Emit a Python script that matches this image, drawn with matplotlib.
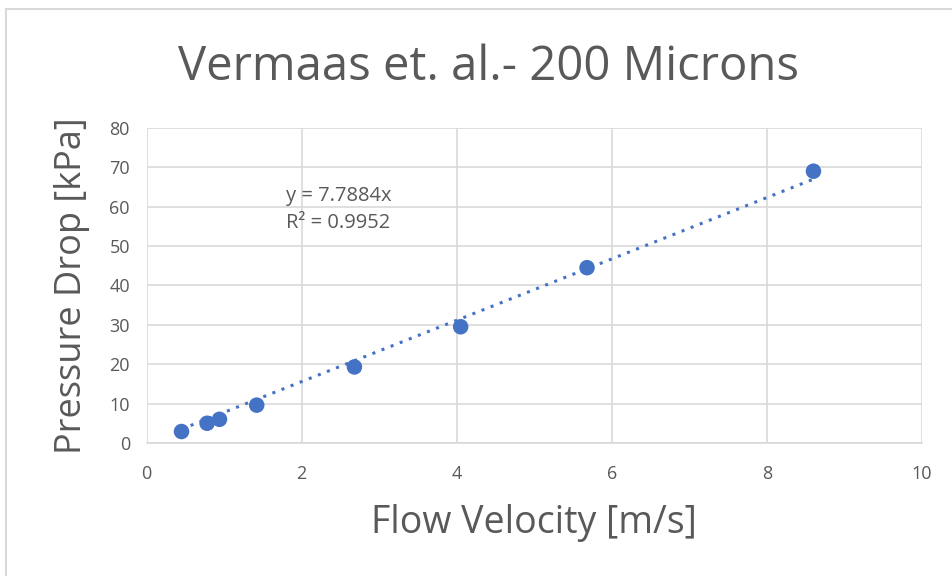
import numpy as np
import matplotlib.pyplot as plt
from matplotlib.lines import Line2D

velocity = [0.45, 0.78, 0.94, 1.42, 2.68, 4.05, 5.68, 8.60]
pressure = [2.9, 5.0, 6.0, 9.6, 19.3, 29.5, 44.5, 69.0]
slope = 7.7884
r2 = 0.9952

grey = '#595959'
blue = '#4472c4'
plt.rcParams['font.family'] = ['Open Sans', 'DejaVu Sans']

fig = plt.figure(figsize=(9.52, 5.76), dpi=100)
ax = fig.add_axes([0.154, 0.231, 0.8145, 0.547])

xs = np.array([velocity[0], velocity[-1]])
ax.plot(xs, slope * xs, linestyle=(0, (1, 2.2)), color=blue, linewidth=2.2, zorder=2)
ax.scatter(velocity, pressure, s=125, color=blue, zorder=3, edgecolors='none')

ax.set_xlim(0, 10)
ax.set_ylim(0, 80)
ax.set_xticks(range(0, 11, 2))
ax.set_yticks(range(0, 81, 10))
ax.grid(True, color='#d9d9d9', linewidth=1.2)
ax.set_axisbelow(True)
for s in ['top', 'right', 'left']:
    ax.spines[s].set_visible(False)
ax.spines['bottom'].set_color('#d9d9d9')
ax.spines['bottom'].set_linewidth(1.2)
ax.tick_params(axis='x', length=0, labelsize=13, labelcolor=grey, pad=16)
ax.tick_params(axis='y', length=0, labelsize=13, labelcolor=grey, pad=12)

ax.set_xlabel('Flow Velocity [m/s]', fontsize=27, color=grey, labelpad=15)
ax.set_ylabel('Pressure Drop [kPa]', fontsize=26, color=grey, labelpad=14)
fig.text(0.513, 0.884, 'Vermaas et. al.- 200 Microns', fontsize=34, color=grey,
         ha='center', va='center')

ax.text(1.8, 59.3, f'y = {slope}x\nR² = {r2}', fontsize=14.5, color=grey,
        linespacing=1.45, va='center')

fig.add_artist(Line2D([0.0068, 1], [0.984, 0.984], transform=fig.transFigure,
                      color='#d9d9d9', linewidth=1.5))
fig.add_artist(Line2D([0.0068, 0.0068], [0, 0.984], transform=fig.transFigure,
                      color='#d9d9d9', linewidth=1.5))

fig.savefig('out.png', dpi=100, facecolor='white')
plt.close(fig)
